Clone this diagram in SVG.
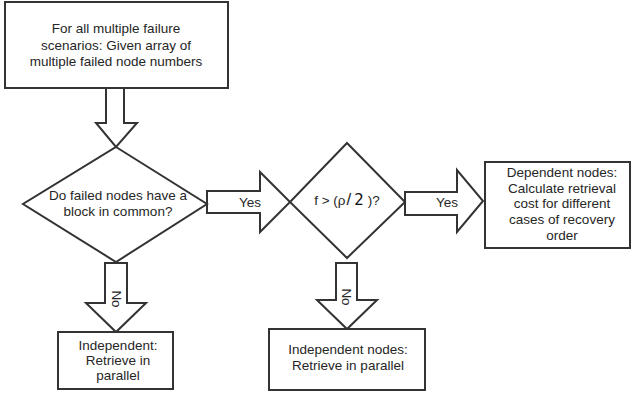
<svg xmlns="http://www.w3.org/2000/svg" width="632" height="396" viewBox="0 0 632 396">
<style>
.shape{fill:#fff;stroke:#333;stroke-width:2;stroke-linejoin:miter}
.t{font-family:"Liberation Sans",Arial,sans-serif;font-size:13.5px;fill:#262626;text-anchor:middle}
</style>
<rect width="632" height="396" fill="#fff"/>
<g id="connectors">
<polygon class="shape" points="106,88 124,88 124,123 137,123 116,147 96,123 106,123"/>
<polygon class="shape" points="207,191 260,191 260,172 290,202 260,232 260,213 207,213"/>
<polygon class="shape" points="405,192 457,192 457,170 483,201 457,232 457,215 405,215"/>
<polygon class="shape" points="105,263 127,263 127,303 146,303 116,332 86,303 105,303"/>
<polygon class="shape" points="336,263 357,263 357,300 377,300 347,329 317,300 336,300"/>
<text class="t" x="250" y="207">Yes</text>
<text class="t" x="447" y="207">Yes</text>
<text class="t" transform="translate(112,299) rotate(90)">No</text>
<text class="t" transform="translate(342,297) rotate(90)">No</text>
</g>
<g id="start">
<rect class="shape" x="5" y="2" width="223" height="86"/>
<text class="t" x="116" y="33">For all multiple failure</text>
<text class="t" x="116" y="50">scenarios: Given array of</text>
<text class="t" x="116" y="66">multiple failed node numbers</text>
</g>
<g id="decision1">
<polygon class="shape" points="116,147 207,204 116,262 23,204"/>
<text class="t" x="118" y="200">Do failed nodes have a</text>
<text class="t" x="118" y="216">block in common?</text>
</g>
<g id="decision2">
<polygon class="shape" points="347,143 405,202 347,258 290,202"/>
<text class="t" x="347" y="205" font-size="14">f &gt; (ρ<tspan font-size="17" dx="1">/</tspan><tspan font-family="'DejaVu Sans',sans-serif" font-size="15" fill="#111" dx="3">2</tspan><tspan dx="4">)?</tspan></text>
</g>
<g id="dependent">
<rect class="shape" x="485" y="162" width="145" height="86"/>
<text class="t" x="562" y="177">Dependent nodes:</text>
<text class="t" x="562" y="193">Calculate retrieval</text>
<text class="t" x="562" y="208">cost for different</text>
<text class="t" x="562" y="224">cases of recovery</text>
<text class="t" x="562" y="240">order</text>
</g>
<g id="independent1">
<rect class="shape" x="58" y="332" width="115" height="57"/>
<text class="t" x="118" y="350">Independent:</text>
<text class="t" x="118" y="365">Retrieve in</text>
<text class="t" x="118" y="380">parallel</text>
</g>
<g id="independent2">
<rect class="shape" x="269" y="329" width="156" height="61"/>
<text class="t" x="348" y="354">Independent nodes:</text>
<text class="t" x="348" y="370">Retrieve in parallel</text>
</g>
</svg>
